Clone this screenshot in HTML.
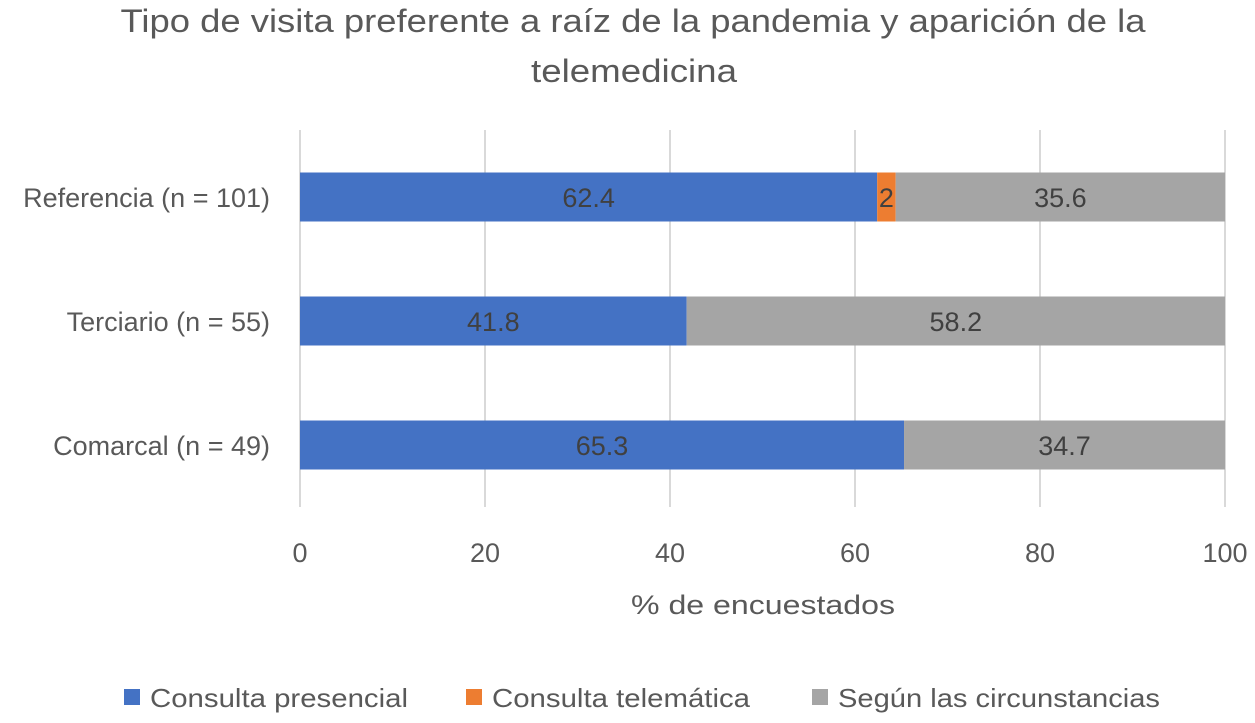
<!DOCTYPE html>
<html><head><meta charset="utf-8"><style>
body{margin:0;background:#fff;}
svg text{font-family:"Liberation Sans",sans-serif;}
</style></head><body>
<svg id="chart" width="1255" height="718" xmlns="http://www.w3.org/2000/svg">
<text x="633" y="32" text-anchor="middle" font-size="32" fill="#595959" textLength="1025" lengthAdjust="spacingAndGlyphs">Tipo de visita preferente a raíz de la pandemia y aparición de la</text>
<text x="634" y="82" text-anchor="middle" font-size="32" fill="#595959" textLength="206" lengthAdjust="spacingAndGlyphs">telemedicina</text>
<g id="grid"></g><g id="bars"></g><g id="labels"></g>
<text x="763" y="614" text-anchor="middle" font-size="27" fill="#595959" textLength="264" lengthAdjust="spacingAndGlyphs">% de encuestados</text>
<g>
<rect x="124" y="689" width="16" height="16" fill="#4472C4"/>
<text x="150" y="707" font-size="26" fill="#595959" textLength="258" lengthAdjust="spacingAndGlyphs">Consulta presencial</text>
<rect x="466" y="689" width="16" height="16" fill="#ED7D31"/>
<text x="492" y="707" font-size="26" fill="#595959" textLength="258" lengthAdjust="spacingAndGlyphs">Consulta telemática</text>
<rect x="812" y="689" width="16" height="16" fill="#A5A5A5"/>
<text x="838" y="707" font-size="26" fill="#595959" textLength="322" lengthAdjust="spacingAndGlyphs">Según las circunstancias</text>
</g>
</svg>
<script>
const categories=["Referencia (n = 101)","Terciario (n = 55)","Comarcal (n = 49)"];
const presencial=[62.4,41.8,65.3];
const telematica=[2,0,0];
const circunstancias=[35.6,58.2,34.7];
const ticks=[0,20,40,60,80,100];
const NS="http://www.w3.org/2000/svg";
const x0=300,x1=1225,plotTop=135,plotBot=507;
const xs=v=>x0+(v/100)*(x1-x0);
const band=(plotBot-plotTop)/categories.length;
const yc=i=>plotTop+band*(i+0.5);
function mk(t,a,p){const e=document.createElementNS(NS,t);for(const k in a)e.setAttribute(k,a[k]);p.appendChild(e);return e;}
const g=document.getElementById('grid'),b=document.getElementById('bars'),l=document.getElementById('labels');
ticks.forEach(t=>{
 const ln=mk('line',{x1:xs(t),x2:xs(t),y1:130,y2:507,stroke:'#D9D9D9','stroke-width':2},g);
 
 
 const tx=mk('text',{x:xs(t),y:562,'text-anchor':'middle','font-size':27,fill:'#595959'},g);
 tx.textContent=t;
 
 
});
const series=[[presencial,'#4472C4','presencial'],[telematica,'#ED7D31','telematica'],[circunstancias,'#A5A5A5','circunstancias']];
categories.forEach((c,i)=>{
 const ct=mk('text',{x:270,y:yc(i)+10,'text-anchor':'end','font-size':27,fill:'#595959'},l);
 ct.textContent=c;
 
 
 let acc=0;
 series.forEach(([arr,col,nm])=>{
  const v=arr[i]; if(!v) return;
  const r=mk('rect',{x:xs(acc),y:yc(i)-24.5,width:xs(acc+v)-xs(acc),height:49,fill:col},b);
  
  
  const t=mk('text',{x:(xs(acc)+xs(acc+v))/2,y:yc(i)+10,'text-anchor':'middle','font-size':27,fill:'#404040'},l);
  t.textContent=v;
  
  
  acc+=v;
 });
});
</script>
</body></html>
